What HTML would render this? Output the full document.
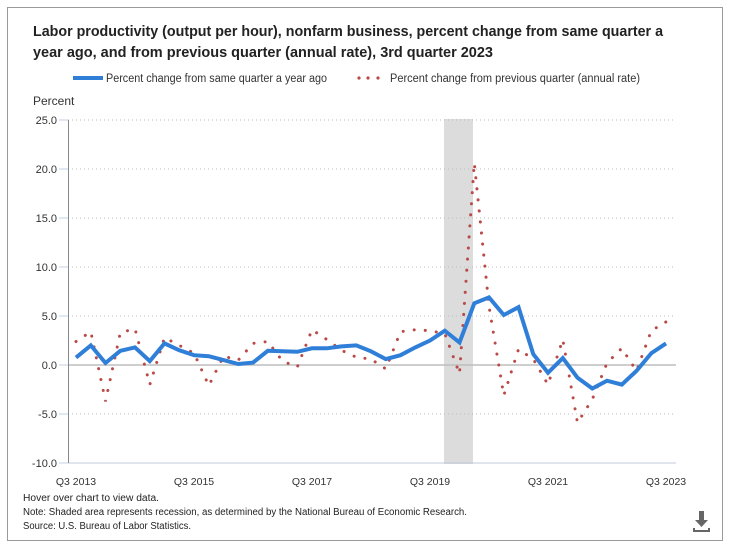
<!DOCTYPE html>
<html><head><meta charset="utf-8"><style>
html,body{margin:0;padding:0;background:#fff;}
svg{display:block;font-family:"Liberation Sans",sans-serif;}
</style></head><body>
<svg id="chart" width="730" height="551" viewBox="0 0 730 551" xmlns="http://www.w3.org/2000/svg">
<rect x="7.5" y="7.5" width="715" height="533" fill="#fff" stroke="#9a9a9a"/>
<text x="33" y="36" font-size="15" font-weight="bold" fill="#222" textLength="630" lengthAdjust="spacingAndGlyphs">Labor productivity (output per hour), nonfarm business, percent change from same quarter a</text>
<text x="33" y="57" font-size="15" font-weight="bold" fill="#222" textLength="460" lengthAdjust="spacingAndGlyphs">year ago, and from previous quarter (annual rate), 3rd quarter 2023</text>
<g>
<line x1="73" y1="78" x2="103" y2="78" stroke="#2f7ed8" stroke-width="4"/>
<text x="106" y="82" font-size="11.5" fill="#333" textLength="221" lengthAdjust="spacingAndGlyphs">Percent change from same quarter a year ago</text>
<circle cx="359" cy="78" r="1.6" fill="#b94a48"/><circle cx="368" cy="78" r="1.6" fill="#b94a48"/><circle cx="378" cy="78" r="1.6" fill="#b94a48"/>
<text x="390" y="82" font-size="11.5" fill="#333" textLength="250" lengthAdjust="spacingAndGlyphs">Percent change from previous quarter (annual rate)</text>
</g>
<text x="33" y="105" font-size="12" fill="#333">Percent</text>
<rect x="444" y="119" width="29" height="345" fill="#dcdcdc"/>
<g id="grid"></g>
<g id="series"></g>
<g font-size="10" fill="#222">
<text x="23" y="501" textLength="136" lengthAdjust="spacingAndGlyphs">Hover over chart to view data.</text>
<text x="23" y="515" textLength="444" lengthAdjust="spacingAndGlyphs">Note: Shaded area represents recession, as determined by the National Bureau of Economic Research.</text>
<text x="23" y="529" textLength="168" lengthAdjust="spacingAndGlyphs">Source: U.S. Bureau of Labor Statistics.</text>
</g>
<g fill="#666">
<rect x="699" y="511" width="5" height="10"/>
<polygon points="695,520 708,520 701.5,527"/>
<rect x="693" y="528" width="2" height="4"/><rect x="708" y="528" width="2" height="4"/><rect x="693" y="530" width="17" height="2"/>
</g>
</svg>
<script>
const quarters=["Q3 2013","Q4 2013","Q1 2014","Q2 2014","Q3 2014","Q4 2014","Q1 2015","Q2 2015","Q3 2015","Q4 2015","Q1 2016","Q2 2016","Q3 2016","Q4 2016","Q1 2017","Q2 2017","Q3 2017","Q4 2017","Q1 2018","Q2 2018","Q3 2018","Q4 2018","Q1 2019","Q2 2019","Q3 2019","Q4 2019","Q1 2020","Q2 2020","Q3 2020","Q4 2020","Q1 2021","Q2 2021","Q3 2021","Q4 2021","Q1 2022","Q2 2022","Q3 2022","Q4 2022","Q1 2023","Q2 2023","Q3 2023"];
const yoyValues=[0.75,2.0,0.2,1.45,1.8,0.4,2.2,1.5,1.0,0.9,0.5,0.1,0.25,1.45,1.4,1.35,1.7,1.7,1.9,2.0,1.4,0.6,1.0,1.8,2.5,3.5,2.3,6.3,6.9,5.1,5.9,1.1,-0.8,0.7,-1.3,-2.4,-1.6,-2.0,-0.6,1.2,2.2];
const qoqValues=[2.4,3.4,-3.7,3.3,3.7,-2.0,2.8,2.0,1.2,-2.1,0.9,0.5,2.2,2.4,0.4,-0.2,3.6,2.6,1.5,0.8,0.6,-0.4,3.4,3.6,3.5,3.2,-0.9,20.6,6.0,-3.1,1.6,0.6,-2.0,2.6,-5.9,-3.5,0.2,1.7,-0.6,3.5,4.4];
const yTicks=[-10,-5,0,5,10,15,20,25];
const xTickLabels=["Q3 2013","Q3 2015","Q3 2017","Q3 2019","Q3 2021","Q3 2023"];
const NS="http://www.w3.org/2000/svg";
const x0=76,dx=14.75,yZero=365,pxPerUnit=9.8;
function xScale(i){return x0+i*dx;}
function yScale(v){return yZero-v*pxPerUnit;}
function mk(t,parent){const e=document.createElementNS(NS,t);parent.appendChild(e);return e;}
const grid=document.getElementById('grid');
yTicks.forEach(v=>{
  const y=yScale(v);
  const l=mk('line',grid);
  
  
  l.setAttribute('x1',68);l.setAttribute('x2',676);l.setAttribute('y1',y);l.setAttribute('y2',y);
  if(v===0){l.setAttribute('stroke','#bdbdbd');l.setAttribute('stroke-width','1.5');}
  else if(v===-10){l.setAttribute('stroke','#c0c8d8');}
  else{l.setAttribute('stroke','#bbb');l.setAttribute('stroke-dasharray','1 3');}
  const tk=mk('line',grid);
  
  
  tk.setAttribute('x1',59);tk.setAttribute('x2',68);tk.setAttribute('y1',y);tk.setAttribute('y2',y);tk.setAttribute('stroke','#c0d0e8');
  const t=mk('text',grid);
  
  
  t.setAttribute('x',57);t.setAttribute('y',y+4);t.setAttribute('text-anchor','end');t.setAttribute('font-size','11');t.setAttribute('fill','#333');
  t.textContent=v.toFixed(1);
});
const ax=mk('line',grid);


ax.setAttribute('x1',68.5);ax.setAttribute('x2',68.5);ax.setAttribute('y1',yScale(25));ax.setAttribute('y2',yScale(-10));ax.setAttribute('stroke','#888');
xTickLabels.forEach(lab=>{
  const i=quarters.indexOf(lab);
  const t=mk('text',grid);
  
  
  t.setAttribute('x',xScale(i));t.setAttribute('y',485);t.setAttribute('text-anchor','middle');t.setAttribute('font-size','10.5');t.setAttribute('fill','#333');
  t.textContent=lab;
});
const series=document.getElementById('series');
function pts(vals){return vals.map((v,i)=>xScale(i).toFixed(1)+','+yScale(v).toFixed(1)).join(' ');}
const red=mk('polyline',series);


red.setAttribute('points',pts(qoqValues));red.setAttribute('fill','none');red.setAttribute('stroke','#b94a48');red.setAttribute('stroke-width','3');red.setAttribute('stroke-dasharray','0.1 11');red.setAttribute('stroke-linecap','round');
const blue=mk('polyline',series);


blue.setAttribute('points',pts(yoyValues));blue.setAttribute('fill','none');blue.setAttribute('stroke','#2f7ed8');blue.setAttribute('stroke-width','4');blue.setAttribute('stroke-linejoin','miter');
</script>
</body></html>
